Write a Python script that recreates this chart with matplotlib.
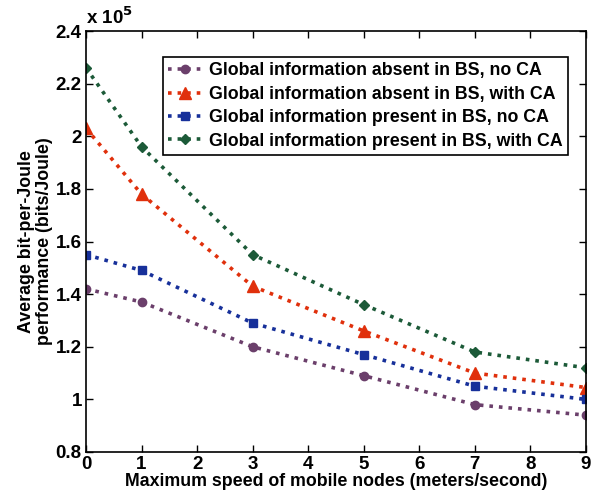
import matplotlib
matplotlib.use('Agg')
import matplotlib.pyplot as plt
from matplotlib.ticker import FuncFormatter

plt.rcParams['font.family'] = ['Liberation Sans', 'DejaVu Sans']
plt.rcParams['font.weight'] = 'bold'

speed = [0, 1, 3, 5, 7, 9]
# values in units of 1e5 bits/Joule
absent_noCA = [1.42, 1.37, 1.20, 1.09, 0.98, 0.94]
absent_CA = [2.03, 1.78, 1.43, 1.26, 1.10, 1.045]
present_noCA = [1.55, 1.49, 1.29, 1.17, 1.05, 1.00]
present_CA = [2.26, 1.96, 1.55, 1.36, 1.18, 1.12]

labels = ['Global information absent in BS, no CA',
          'Global information absent in BS, with CA',
          'Global information present in BS, no CA',
          'Global information present in BS, with CA']

fig = plt.figure(figsize=(5.99, 5.0), dpi=100)
ax = fig.add_axes([86/599, 48/500, 500/599, 421/500])

ax.plot(speed, absent_noCA, ':', color='#6b3f6b', lw=2.6, marker='o', ms=6, label=labels[0])
ax.plot(speed, absent_CA, ':', color='#e0300c', lw=2.6, marker='^', ms=8, label=labels[1])
ax.plot(speed, present_noCA, ':', color='#17309a', lw=2.6, marker='s', ms=5.5, label=labels[2])
ax.plot(speed, present_CA, ':', color='#1c5a38', lw=2.6, marker='D', ms=5.5, label=labels[3])

ax.set_xlim(0, 9)
ax.set_ylim(0.8, 2.4)
ax.set_xticks(range(0, 10))
ax.set_yticks([0.8, 1.0, 1.2, 1.4, 1.6, 1.8, 2.0, 2.2, 2.4])
ax.yaxis.set_major_formatter(FuncFormatter(lambda v, p: '%g' % round(v, 2)))
ax.tick_params(direction='in', top=True, right=True, labelsize=13.5, width=1, length=5, pad=3)
for s in ax.spines.values():
    s.set_linewidth(1.2)

ax.set_xlabel('Maximum speed of mobile nodes (meters/second)', fontsize=12.8, fontweight='bold', labelpad=0)
ax.set_ylabel('Average bit-per-Joule\nperformance (bits/Joule)', fontsize=12.8, fontweight='bold',
              labelpad=2, linespacing=1.1)
ax.text(0.0, 1.008, r'x 10$^{\mathbf{5}}$', transform=ax.transAxes, fontsize=13.5, fontweight='bold', va='bottom')

leg = ax.legend(loc='upper right', fontsize=12.8, fancybox=False,
                edgecolor='black', framealpha=1, handlelength=1.9, borderpad=0.3,
                labelspacing=0.36, handletextpad=0.4, borderaxespad=0)
leg.set_bbox_to_anchor((568/599, (500 - 57)/500), transform=fig.transFigure)
leg.get_frame().set_linewidth(1.2)
for t in leg.get_texts():
    t.set_fontweight('bold')

fig.savefig('out.png', dpi=100)
